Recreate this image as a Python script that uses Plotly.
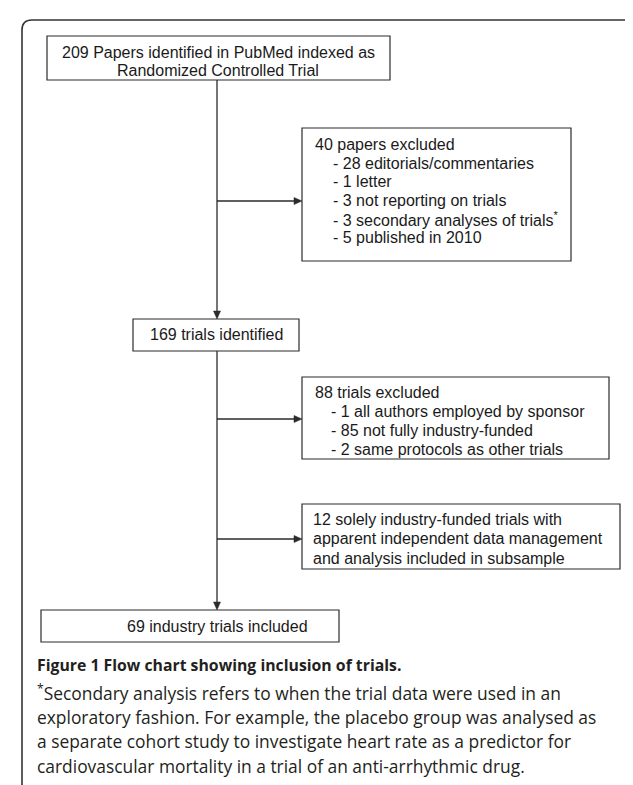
import plotly.graph_objects as go

W, H = 633, 785

# ---------------- data ----------------
papers_identified = 209
excl1_total = 40
excl1_counts = [28, 1, 3, 3, 5]
excl1_labels = ["editorials/commentaries", "letter", "not reporting on trials",
                "secondary analyses of trials<sup>*</sup>", "published in 2010"]
trials_identified = 169
excl2_total = 88
excl2_counts = [1, 85, 2]
excl2_labels = ["all authors employed by sponsor", "not fully industry-funded",
                "same protocols as other trials"]
subsample_count = 12
subsample_text = ["solely industry-funded trials with",
                  "apparent independent data management",
                  "and analysis included in subsample"]
included_trials = 69

caption_title = "Figure 1 Flow chart showing inclusion of trials."
caption_lines = [
    "<sup>*</sup>Secondary analysis refers to when the trial data were used in an",
    "exploratory fashion. For example, the placebo group was analysed as",
    "a separate cohort study to investigate heart rate as a predictor for",
    "cardiovascular mortality in a trial of an anti-arrhythmic drug.",
]

# ---------------- geometry / style ----------------
LINE = "#2b2b2b"
TXT = "#1a1a1a"
FLOW_FONT = dict(family="Liberation Sans, Arial, sans-serif", size=16, color=TXT)
CAP_FONT = dict(family="Open Sans, sans-serif", size=17.4, color="#231f20")
CAP_TITLE_FONT = dict(family="Open Sans, sans-serif", size=15.8, color="#231f20")
MAIN_X = 209

boxes = {
    "top": (39, 28, 382, 72),
    "ex1": (294, 120, 563, 253),
    "mid": (125, 311, 291, 343),
    "ex2": (294, 369, 601, 451),
    "sub": (294, 496, 612, 561),
    "end": (33, 602, 331, 634),
}

shapes = []
annotations = []

def rect(b):
    x0, y0, x1, y1 = b
    shapes.append(dict(type="rect", x0=x0, y0=y0, x1=x1, y1=y1, xref="x", yref="y",
                       line=dict(color=LINE, width=1.2), fillcolor="rgba(0,0,0,0)"))

def line(x0, y0, x1, y1, w=1.3):
    shapes.append(dict(type="line", x0=x0, y0=y0, x1=x1, y1=y1, xref="x", yref="y",
                       line=dict(color=LINE, width=w)))

def head_down(x, y):
    shapes.append(dict(type="path", path=f"M {x-3.5},{y-8} L {x+3.5},{y-8} L {x},{y} Z",
                       xref="x", yref="y", fillcolor=LINE, line=dict(color=LINE, width=0.5)))

def head_right(x, y):
    shapes.append(dict(type="path", path=f"M {x-8},{y-3.5} L {x-8},{y+3.5} L {x},{y} Z",
                       xref="x", yref="y", fillcolor=LINE, line=dict(color=LINE, width=0.5)))

def text(x, y, s, anchor="left", font=FLOW_FONT):
    annotations.append(dict(x=x, y=y, xref="x", yref="y", text=s, showarrow=False,
                            xanchor=anchor, yanchor="middle", font=font, align=anchor))

# outer frame (rounded)
r = 10
fx0, fy0, fx1, fy1 = 14, 12, 632, 789
shapes.append(dict(type="path",
                   path=(f"M {fx0},{fy1-r} L {fx0},{fy0+r} Q {fx0},{fy0} {fx0+r},{fy0} "
                         f"L {fx1-r},{fy0} Q {fx1},{fy0} {fx1},{fy0+r} L {fx1},{fy1-r} "
                         f"Q {fx1},{fy1} {fx1-r},{fy1} L {fx0+r},{fy1} Q {fx0},{fy1} {fx0},{fy1-r}"),
                   xref="x", yref="y", line=dict(color="#333333", width=1.6)))

for b in boxes.values():
    rect(b)

# main vertical flow
line(MAIN_X, boxes["top"][3], MAIN_X, boxes["mid"][1] - 6)
head_down(MAIN_X, boxes["mid"][1])
line(MAIN_X, boxes["mid"][3], MAIN_X, boxes["end"][1] - 6)
head_down(MAIN_X, boxes["end"][1])

# branch arrows
for key, yy in (("ex1", 193), ("ex2", 411), ("sub", 531)):
    line(MAIN_X, yy, boxes[key][0] - 6, yy)
    head_right(boxes[key][0], yy)

# box texts
text(210, 44, f"{papers_identified} Papers identified in PubMed indexed as", "center")
text(210, 62, "Randomized Controlled Trial", "center")

x0 = boxes["ex1"][0]
text(x0 + 11, 136, f"{excl1_total} papers excluded")
for i, (c, lab) in enumerate(zip(excl1_counts, excl1_labels)):
    text(x0 + 29, 155 + 18.7 * i, f"- {c} {lab}")

text(208, 326, f"{trials_identified} trials identified", "center")

x0 = boxes["ex2"][0]
text(x0 + 11, 384, f"{excl2_total} trials excluded")
for i, (c, lab) in enumerate(zip(excl2_counts, excl2_labels)):
    text(x0 + 27, 403 + 19 * i, f"- {c} {lab}")

x0 = boxes["sub"][0]
sub_lines = [f"{subsample_count} {subsample_text[0]}"] + subsample_text[1:]
for i, s in enumerate(sub_lines):
    text(x0 + 9, 511 + 19.5 * i, s)

text(209, 618, f"{included_trials} industry trials included", "center")

# caption
text(27, 657, f"<b>{caption_title}</b>", font=CAP_TITLE_FONT)
for i, s in enumerate(caption_lines):
    text(27, 684 + 24.5 * i, s, font=CAP_FONT)

fig = go.Figure()
fig.update_layout(
    width=W, height=H, margin=dict(l=0, r=0, t=0, b=0),
    paper_bgcolor="white", plot_bgcolor="white",
    xaxis=dict(range=[0, W], visible=False, fixedrange=True),
    yaxis=dict(range=[H, 0], visible=False, fixedrange=True),
    shapes=shapes, annotations=annotations, showlegend=False,
)
fig.write_html("out.html")
